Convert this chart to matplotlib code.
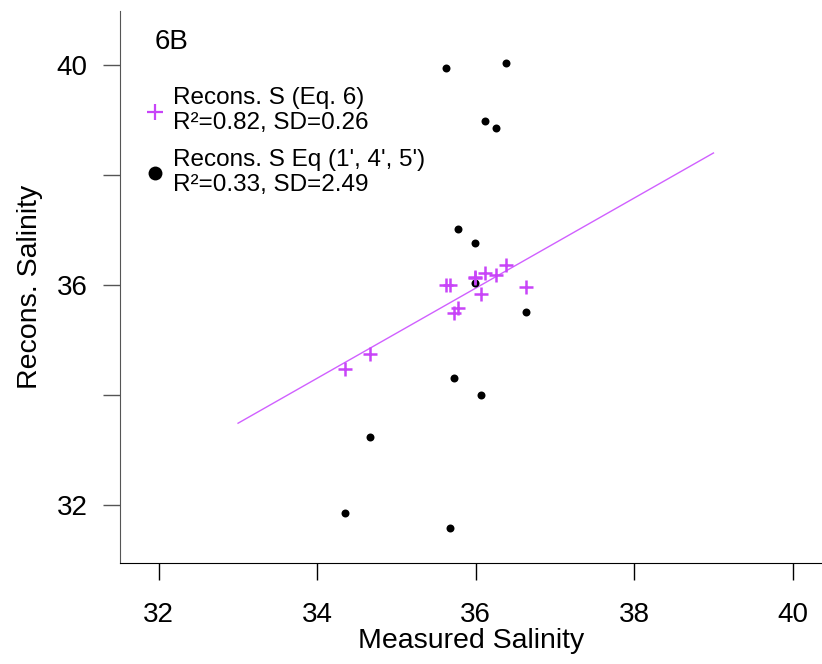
import matplotlib
matplotlib.use("Agg")
import matplotlib.pyplot as plt

plt.rcParams['font.family'] = ['Liberation Sans', 'DejaVu Sans']

# measured salinity and the two reconstructions
measured = [34.35, 34.67, 35.63, 35.68, 35.72, 35.78, 35.99, 35.99,
            36.07, 36.12, 36.25, 36.38, 36.63]
recon_eq6 = [34.47, 34.74, 36.00, 36.00, 35.49, 35.59, 36.15, 36.12,
             35.84, 36.22, 36.18, 36.36, 35.96]
recon_eq145 = [31.85, 33.24, 39.94, 31.59, 34.31, 37.01, 36.77, 36.04,
               34.00, 38.98, 38.85, 40.03, 35.51]
fit_x = [33.0, 39.0]
fit_y = [33.49, 38.40]

purple = '#C844F8'

fig = plt.figure(figsize=(8.22, 6.64), dpi=100, facecolor='white')
ax = fig.add_axes([120/822, 1 - 563/664, 1 - 120/822, (563 - 11)/664])

ax.plot(fit_x, fit_y, color='#D060FF', lw=1.0)
ax.scatter(measured, recon_eq145, s=33, color='black', zorder=3, lw=0)
ax.scatter(measured, recon_eq6, s=110, marker='+', color=purple, lw=1.8, zorder=4)

ax.set_xlim(31.51, 40.37)
ax.set_ylim(30.95, 40.98)
ax.spines['top'].set_visible(False)
ax.spines['right'].set_visible(False)
ax.spines['left'].set_color('#555555')
ax.spines['bottom'].set_color('black')

ax.set_xticks([32, 34, 36, 38, 40])
ax.set_yticks([32, 34, 36, 38, 40])
ax.set_yticklabels(['32', '', '36', '', '40'])
ax.tick_params(axis='both', length=12.2, width=1, labelsize=20)
ax.tick_params(axis='y', colors='#555555', labelcolor='black', pad=11)
ax.tick_params(axis='x', pad=16)

ax.set_xlabel('Measured Salinity', fontsize=20.5, va='center')
ax.set_ylabel('Recons. Salinity', fontsize=20.5, va='center')
ax.xaxis.set_label_coords(0.5, -0.141)
ax.yaxis.set_label_coords(-0.128, 0.5)

# panel tag and hand-placed legend, like R's text()/points()
ax.text(0.050, 0.944, '6B', transform=ax.transAxes, fontsize=20, va='center')
ax.scatter([0.050], [0.817], s=120, marker='+', color=purple, lw=1.6,
           transform=ax.transAxes, clip_on=False)
ax.text(0.076, 0.842, 'Recons. S (Eq. 6)', transform=ax.transAxes,
        fontsize=17.5, va='center')
ax.text(0.076, 0.797, 'R²=0.82, SD=0.26', transform=ax.transAxes,
        fontsize=17.5, va='center')
ax.scatter([0.050], [0.7065], s=100, color='black', lw=0,
           transform=ax.transAxes, clip_on=False)
ax.text(0.076, 0.730, "Recons. S Eq (1', 4', 5')", transform=ax.transAxes,
        fontsize=17.5, va='center')
ax.text(0.076, 0.685, 'R²=0.33, SD=2.49', transform=ax.transAxes,
        fontsize=17.5, va='center')

fig.savefig('out.png', dpi=100, facecolor='white')
